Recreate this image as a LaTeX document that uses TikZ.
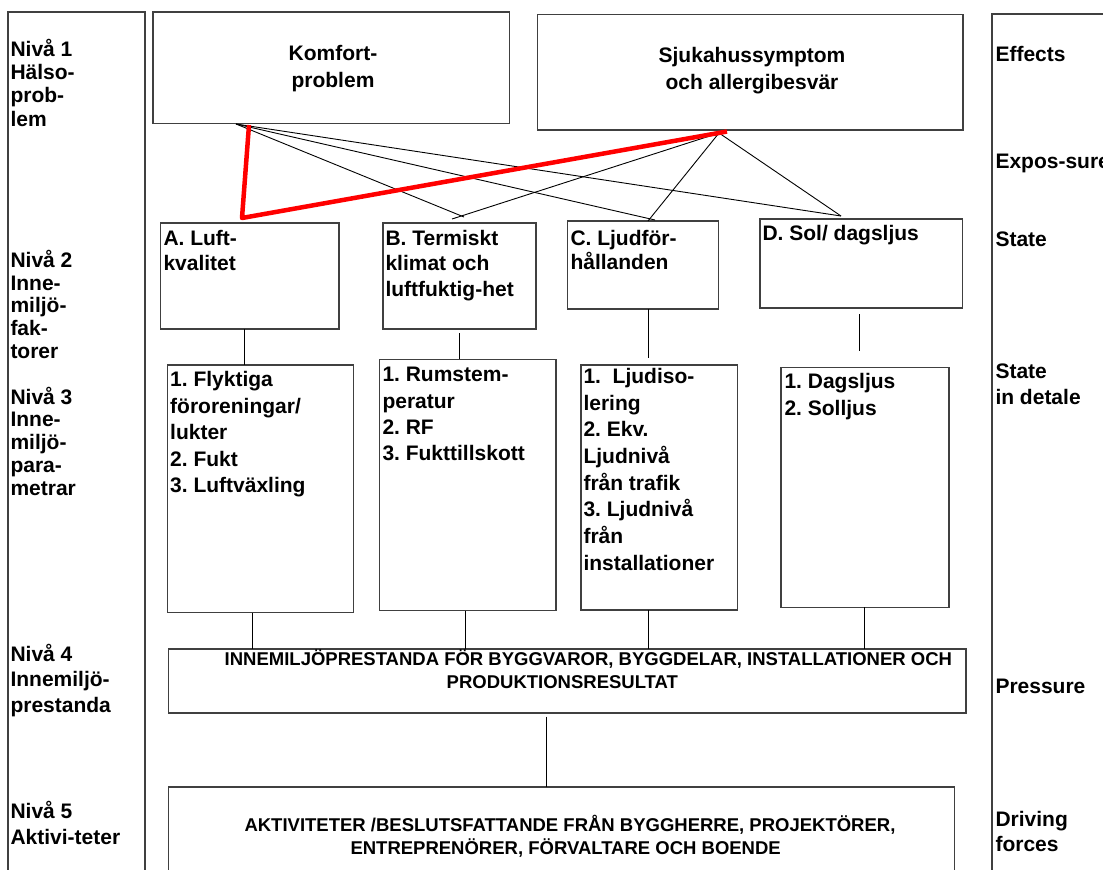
\documentclass[tikz,border=0pt]{standalone}
\usepackage{fontspec}
\setmainfont{Liberation Sans}
\definecolor{bordc}{gray}{0.25}
\newcommand\hs{\rule{0pt}{18pt}}
\newcommand\tf[2]{\fontsize{#1}{#2}\selectfont}
\tikzset{
  box/.style={draw=bordc, line width=1.1pt, anchor=north west, inner sep=0pt, outer sep=0pt},
  conn/.style={draw=black, line width=0.9pt},
  redline/.style={draw=red, line width=4.5pt, line join=round},
  txt/.style={anchor=north west, inner sep=0pt, outer sep=0pt, align=left},
  ctxt/.style={anchor=north, inner sep=0pt, outer sep=0pt, align=center}
}
\frenchspacing
\begin{document}
\frenchspacing
\begin{tikzpicture}[x=1pt,y=-1pt]
\useasboundingbox (0,0) rectangle (1103,870);
\clip (0,0) rectangle (1103,870);
% side columns
\node[box, minimum width=137pt, minimum height=880pt] (lcol) at (8,12) {};
\node[box, minimum width=140pt, minimum height=880pt] (rcol) at (992,14) {};
% level 1
\node[box, minimum width=356.7pt, minimum height=111.3pt] (kom) at (153,12) {};
\node[box, minimum width=425.5pt, minimum height=115.7pt] (sjuk) at (537.5,14.3) {};
% level 2
\node[box, minimum width=178.3pt, minimum height=106pt] (A) at (160.7,223) {};
\node[box, minimum width=153pt, minimum height=106pt] (B) at (383,223) {};
\node[box, minimum width=151pt, minimum height=88pt] (C) at (567.6,221) {};
\node[box, minimum width=202.7pt, minimum height=89pt] (D) at (760,219) {};
% level 3
\node[box, minimum width=186pt, minimum height=247.7pt] (A3) at (167.3,365) {};
\node[box, minimum width=176.7pt, minimum height=251.4pt] (B3) at (379.3,359.3) {};
\node[box, minimum width=156.3pt, minimum height=245pt] (C3) at (581,365) {};
\node[box, minimum width=168pt, minimum height=240pt] (D3) at (781,367.3) {};
% level 4 and 5
\node[box, minimum width=797.4pt, minimum height=64pt] (L4) at (168.6,649) {};
\node[box, minimum width=786.1pt, minimum height=120pt] (L5) at (168.6,787) {};

% fan connectors
\coordinate (kf) at (236,124);
\coordinate (sf) at (719,133);
\coordinate (bk) at (464,217);
\coordinate (bs) at (452,219);
\coordinate (ck) at (655,220);
\coordinate (cs) at (648,221);
\coordinate (dk) at (841,216);
\draw[conn] (kf) -- (bk);
\draw[conn] (kf) -- (ck);
\draw[conn] (kf) -- (dk);
\draw[conn] (sf) -- (bs);
\draw[conn] (sf) -- (cs);
\draw[conn] (sf) -- (dk);
\coordinate (rk) at (249,125);
\coordinate (ra) at (242,218);
\coordinate (rs) at (727,131.5);
\draw[redline] (rk) -- (ra) -- (rs);

% level 2 -> 3
\coordinate (a2) at (244,329);   \coordinate (a3) at (244,365);
\coordinate (b2) at (459,333);   \coordinate (b3) at (459,359.3);
\coordinate (c2) at (648.6,309); \coordinate (c3) at (648.6,357.7);
\coordinate (d2) at (859.5,314); \coordinate (d3) at (859.5,350.7);
\draw[conn] (a2) -- (a3);
\draw[conn] (b2) -- (b3);
\draw[conn] (c2) -- (c3);
\draw[conn] (d2) -- (d3);
% level 3 -> 4
\coordinate (a4) at (252,612.7); \coordinate (a5) at (252,649);
\coordinate (b4) at (465,610.7); \coordinate (b5) at (465,649);
\coordinate (c4) at (648,610);   \coordinate (c5) at (648,649);
\coordinate (d4) at (864.5,607.3); \coordinate (d5) at (864.5,649);
\draw[conn] (a4) -- (a5);
\draw[conn] (b4) -- (b5);
\draw[conn] (c4) -- (c5);
\draw[conn] (d4) -- (d5);
% level 4 -> 5
\coordinate (e4) at (546.4,716.7); \coordinate (e5) at (546.4,787);
\draw[conn] (e4) -- (e5);

% left column texts
\node[txt, font=\bfseries\tf{21}{23.1}] (n1) at (10.5,38.7) {\hs Nivå 1\\Hälso-\\prob-\\lem};
\node[txt, font=\bfseries\tf{21}{22.8}] (n23) at (10.5,249.3) {\hs Nivå 2\\Inne-\\miljö-\\fak-\\torer\\[22.8pt]Nivå 3\\Inne-\\miljö-\\para-\\metrar};
\node[txt, font=\bfseries\tf{21}{25.5}] (n4) at (10.5,643) {\hs Nivå 4\\Innemiljö-\\prestanda};
\node[txt, font=\bfseries\tf{21}{25.7}] (n5) at (10.5,800.3) {\hs Nivå 5\\Aktivi-teter};

% right column texts
\node[txt, font=\bfseries\tf{21}{25}] (r1) at (995.5,43.7) {\hs Effects};
\node[txt, font=\bfseries\tf{21}{25}] (r2) at (995.5,150.3) {\hs Expos-sure};
\node[txt, font=\bfseries\tf{21}{25}] (r3) at (995.5,228.5) {\hs State};
\node[txt, font=\bfseries\tf{21}{25.7}] (r4) at (995.5,360.3) {\hs State\\in detale};
\node[txt, font=\bfseries\tf{21}{25}] (r5) at (995.5,675.3) {\hs Pressure};
\node[txt, font=\bfseries\tf{21}{25}] (r6) at (995.5,808.7) {\hs Driving\\forces};

% level 1 texts
\node[ctxt, font=\bfseries\tf{21}{27.3}] (tkom) at (333,42) {\hs Komfort-\\problem};
\node[ctxt, font=\bfseries\tf{21}{26.7}] (tsjuk) at (752,44.7) {\hs Sjukahussymptom\\och allergibesvär};

% level 2 texts
\node[txt, font=\bfseries\tf{21}{25.8}] (tA) at (163.5,227) {\hs A. Luft-\\kvalitet};
\node[txt, font=\bfseries\tf{21}{25.8}] (tB) at (385.5,227) {\hs B. Termiskt\\klimat och\\luftfuktig-het};
\node[txt, font=\bfseries\tf{21}{24.5}] (tC) at (570.5,227) {\hs C. Ljudför-\\hållanden};
\node[txt, font=\bfseries\tf{21}{25}] (tD) at (762.5,222) {\hs D. Sol/ dagsljus};

% level 3 texts
\node[txt, font=\bfseries\tf{21}{26.5}] (tA3) at (170.2,368.7) {\hs 1. Flyktiga\\föroreningar/\\lukter\\2. Fukt\\3. Luftväxling};
\node[txt, font=\bfseries\tf{21}{26.4}] (tB3) at (382.5,363.7) {\hs 1. Rumstem-\\peratur\\2. RF\\3. Fukttillskott};
\node[txt, font=\bfseries\tf{21}{26.7}] (tC3) at (583.5,365.3) {\hs 1.\ \ Ljudiso-\\lering\\2. Ekv.\\Ljudnivå\\från trafik\\3. Ljudnivå\\från\\installationer};
\node[txt, font=\bfseries\tf{21}{26.7}] (tD3) at (784.5,370.3) {\hs 1. Dagsljus\\2. Solljus};

% level 4 and 5 texts
\node[txt, font=\bfseries\tf{18.5}{22.5}] (tL4) at (224.7,647.5) {\hs INNEMILJÖPRESTANDA FÖR BYGGVAROR, BYGGDELAR, INSTALLATIONER OCH\\\hspace*{222pt}PRODUKTIONSRESULTAT};
\node[txt, font=\bfseries\tf{18.5}{22.4}] (tL5) at (244.5,813.6) {\hs AKTIVITETER /BESLUTSFATTANDE FRÅN BYGGHERRE, PROJEKTÖRER,\\\hspace*{106pt}ENTREPRENÖRER, FÖRVALTARE OCH BOENDE};
\end{tikzpicture}
\end{document}
